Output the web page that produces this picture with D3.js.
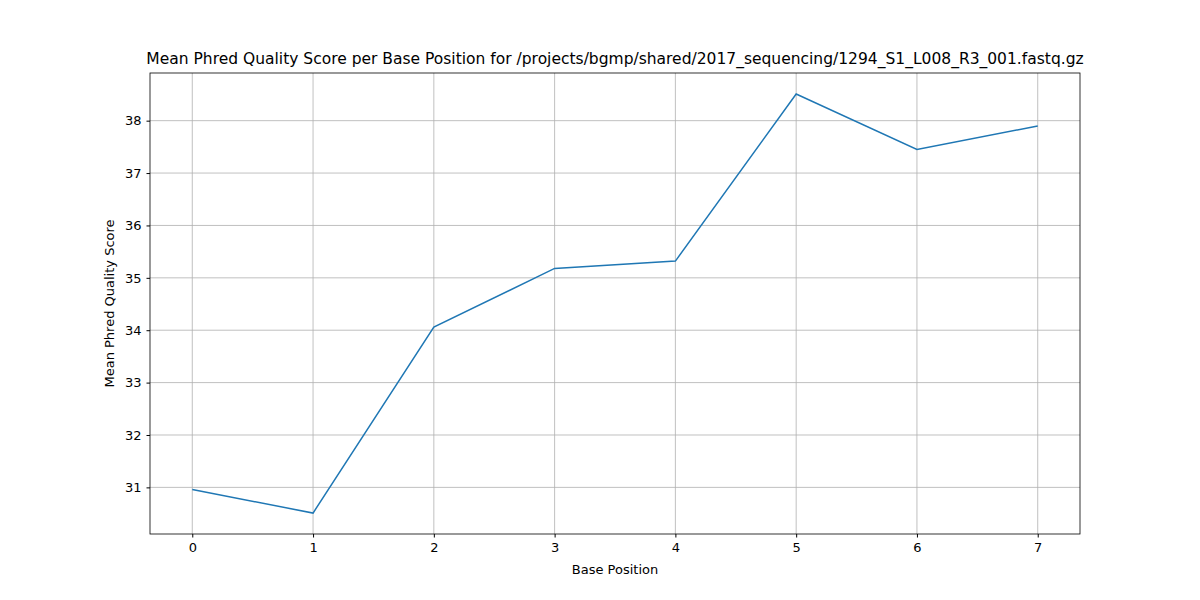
<!DOCTYPE html>
<html><head><meta charset="utf-8">
<script src="https://cdn.jsdelivr.net/npm/d3@7"></script>
<style>body{margin:0;background:#fff}text{font-family:"DejaVu Sans",sans-serif}</style>
</head><body>
<script>
const positions = [0, 1, 2, 3, 4, 5, 6, 7];
const meanScores = [30.96, 30.51, 34.06, 35.18, 35.32, 38.51, 37.45, 37.90];
const yTicks = [31, 32, 33, 34, 35, 36, 37, 38];

const W = 1200, H = 600, mLeft = 150, mRight = 1080, mTop = 73, mBottom = 534;
const svg = d3.select("body").append("svg").attr("width", W).attr("height", H);

const x = d3.scaleLinear().domain([-0.35, 7.35]).range([mLeft, mRight]);
const y = d3.scaleLinear().domain([30.11, 38.91]).range([mBottom, mTop]);

// grid
svg.append("g").selectAll("line").data(positions).join("line")
  .attr("x1", d => x(d)).attr("x2", d => x(d)).attr("y1", mTop).attr("y2", mBottom)
  .attr("stroke", "#b0b0b0").attr("stroke-width", 0.8);
svg.append("g").selectAll("line").data(yTicks).join("line")
  .attr("y1", d => y(d)).attr("y2", d => y(d)).attr("x1", mLeft).attr("x2", mRight)
  .attr("stroke", "#b0b0b0").attr("stroke-width", 0.8);

const xAxis = svg.append("g").attr("transform", `translate(0,${mBottom})`)
  .call(d3.axisBottom(x).tickValues(positions).tickSize(3.5).tickPadding(5));
const yAxis = svg.append("g").attr("transform", `translate(${mLeft},0)`)
  .call(d3.axisLeft(y).tickValues(yTicks).tickSize(3.5).tickPadding(5));
[xAxis, yAxis].forEach(a => {
  a.select(".domain").remove();
  a.selectAll("text").attr("font-size", 13).attr("fill", "#000").style("font-family", "DejaVu Sans");
  a.selectAll("line").attr("stroke", "#000");
});

svg.append("rect").attr("x", mLeft).attr("y", mTop).attr("width", mRight - mLeft).attr("height", mBottom - mTop)
  .attr("fill", "none").attr("stroke", "#000").attr("stroke-width", 0.8);

svg.append("path").datum(positions)
  .attr("d", d3.line().x(d => x(d)).y((d, i) => y(meanScores[i])))
  .attr("fill", "none").attr("stroke", "#1f77b4").attr("stroke-width", 1.5);

svg.append("text").attr("x", (mLeft + mRight) / 2).attr("y", 64).attr("text-anchor", "middle")
  .attr("font-size", 15.5).text("Mean Phred Quality Score per Base Position for /projects/bgmp/shared/2017_sequencing/1294_S1_L008_R3_001.fastq.gz");
svg.append("text").attr("x", (mLeft + mRight) / 2).attr("y", 574).attr("text-anchor", "middle")
  .attr("font-size", 13).text("Base Position");
svg.append("text").attr("transform", `translate(114,${(mTop + mBottom) / 2}) rotate(-90)`).attr("text-anchor", "middle")
  .attr("font-size", 13).text("Mean Phred Quality Score");
</script>
</body></html>
